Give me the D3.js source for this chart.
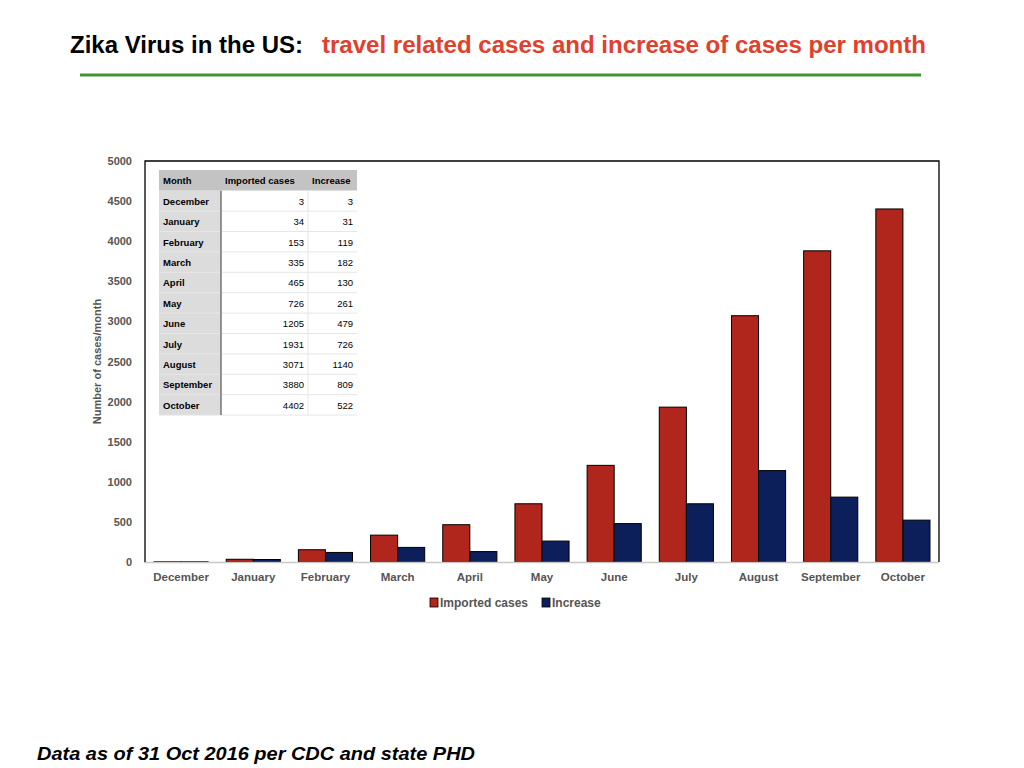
<!DOCTYPE html>
<html>
<head>
<meta charset="utf-8">
<script src="https://cdn.jsdelivr.net/npm/d3@7"></script>
<style>
  body { margin: 0; background: #fff; }
  svg { display: block; font-family: "Liberation Sans", Arial, Helvetica, sans-serif; }
</style>
</head>
<body>
<svg id="chart" width="1024" height="768"></svg>
<script>
const months = ["December", "January", "February", "March", "April", "May", "June", "July", "August", "September", "October"];
const importedCases = [3, 34, 153, 335, 465, 726, 1205, 1931, 3071, 3880, 4402];
const increase = [3, 31, 119, 182, 130, 261, 479, 726, 1140, 809, 522];
const yTicks = [0, 500, 1000, 1500, 2000, 2500, 3000, 3500, 4000, 4500, 5000];
const seriesNames = ["Imported cases", "Increase"];
const seriesColors = ["#b0261c", "#0d1f5a"];

const plot = {left: 145, right: 939, top: 161, bottom: 562};

const svg = d3.select("#chart");

// title
const title = svg.append("text")
    .attr("x", 70)
    .attr("y", 53)
    .style("font-family", "'Liberation Sans Narrow', 'Arial Narrow', 'Liberation Sans', sans-serif")
    .style("font-size", "23.5px")
    .style("font-weight", "bold");
title.append("tspan")
    .attr("fill", "#000")
    .attr("textLength", 233)
    .attr("lengthAdjust", "spacingAndGlyphs")
    .text("Zika Virus in the US:");
title.append("tspan")
    .attr("x", 322)
    .attr("fill", "#e0402c")
    .attr("textLength", 604)
    .attr("lengthAdjust", "spacingAndGlyphs")
    .text("travel related cases and  increase of cases per month");

svg.append("line")
    .attr("x1", 80).attr("x2", 921)
    .attr("y1", 75).attr("y2", 75)
    .attr("stroke", "#3f9630")
    .attr("stroke-width", 3);

// scales
const x0 = d3.scaleBand()
    .domain(months)
    .range([plot.left, plot.right])
    .paddingInner(0.25)
    .paddingOuter(0.125);

const x1 = d3.scaleBand()
    .domain(seriesNames)
    .range([0, x0.bandwidth()]);

const y = d3.scaleLinear()
    .domain([0, 5000])
    .range([plot.bottom, plot.top]);

// y axis labels
svg.append("g")
    .selectAll("text")
    .data(yTicks)
    .join("text")
    .attr("x", 132)
    .attr("y", d => y(d) + 4)
    .attr("text-anchor", "end")
    .attr("fill", "#555")
    .style("font-size", "11px")
    .style("font-weight", "bold")
    .text(d => d);

svg.append("text")
    .attr("transform", "translate(101," + ((plot.top + plot.bottom) / 2) + ") rotate(-90)")
    .attr("text-anchor", "middle")
    .attr("fill", "#555")
    .style("font-size", "11px")
    .style("font-weight", "bold")
    .text("Number of cases/month");

// x axis labels
svg.append("g")
    .selectAll("text")
    .data(months)
    .join("text")
    .attr("x", d => x0(d) + x0.bandwidth() / 2)
    .attr("y", 581)
    .attr("text-anchor", "middle")
    .attr("fill", "#555")
    .style("font-size", "11.5px")
    .style("font-weight", "bold")
    .text(d => d);

// bars
const groups = svg.append("g")
    .selectAll("g")
    .data(months)
    .join("g")
    .attr("transform", d => "translate(" + x0(d) + ",0)");

groups.selectAll("rect")
    .data((d, i) => [
        {series: seriesNames[0], value: importedCases[i], color: seriesColors[0]},
        {series: seriesNames[1], value: increase[i], color: seriesColors[1]}
    ])
    .join("rect")
    .attr("x", d => x1(d.series))
    .attr("y", d => y(d.value))
    .attr("width", x1.bandwidth())
    .attr("height", d => y(0) - y(d.value))
    .attr("fill", d => d.color)
    .attr("stroke", "#000")
    .attr("stroke-width", 1);

// frame
svg.append("line")
    .attr("x1", plot.left - 1).attr("x2", plot.right)
    .attr("y1", plot.bottom + 0.5).attr("y2", plot.bottom + 0.5)
    .attr("stroke", "#c8c8c8")
    .attr("stroke-width", 1.5);
svg.append("path")
    .attr("d", "M" + plot.left + "," + plot.bottom + "V" + plot.top + "H" + plot.right + "V" + plot.bottom)
    .attr("fill", "none")
    .attr("stroke", "#000")
    .attr("stroke-width", 1.3);

// data table
const tableX = 159, tableY = 170;
const colW = [62, 87, 49];
const headH = 20.7, rowH = 20.4;
const headers = ["Month", "Imported cases", "Increase"];
const table = svg.append("g").style("font-size", "9.5px");

table.append("rect")
    .attr("x", tableX).attr("y", tableY)
    .attr("width", d3.sum(colW)).attr("height", headH)
    .attr("fill", "#c3c3c3");
table.append("rect")
    .attr("x", tableX).attr("y", tableY + headH)
    .attr("width", colW[0]).attr("height", rowH * months.length)
    .attr("fill", "#dcdcdc");
table.append("rect")
    .attr("x", tableX + colW[0]).attr("y", tableY + headH)
    .attr("width", colW[1] + colW[2]).attr("height", rowH * months.length)
    .attr("fill", "#fff");

table.selectAll("line.row")
    .data(months)
    .join("line")
    .attr("class", "row")
    .attr("x1", tableX).attr("x2", tableX + d3.sum(colW))
    .attr("y1", (d, i) => tableY + headH + rowH * (i + 1))
    .attr("y2", (d, i) => tableY + headH + rowH * (i + 1))
    .attr("stroke", "#e6e6e6");
table.append("line")
    .attr("x1", tableX + colW[0] + colW[1]).attr("x2", tableX + colW[0] + colW[1])
    .attr("y1", tableY + headH).attr("y2", tableY + headH + rowH * months.length)
    .attr("stroke", "#e6e6e6");
table.append("line")
    .attr("x1", tableX + colW[0]).attr("x2", tableX + colW[0])
    .attr("y1", tableY + headH).attr("y2", tableY + headH + rowH * months.length)
    .attr("stroke", "#555")
    .attr("stroke-width", 1.2);

table.selectAll("text.head")
    .data(headers)
    .join("text")
    .attr("class", "head")
    .attr("x", (d, i) => tableX + d3.sum(colW.slice(0, i)) + 4)
    .attr("y", tableY + 14)
    .style("font-weight", "bold")
    .text(d => d);

table.selectAll("text.month")
    .data(months)
    .join("text")
    .attr("class", "month")
    .attr("x", tableX + 4)
    .attr("y", (d, i) => tableY + headH + rowH * i + 14)
    .style("font-weight", "bold")
    .text(d => d);

table.selectAll("text.imp")
    .data(importedCases)
    .join("text")
    .attr("class", "imp")
    .attr("x", tableX + colW[0] + colW[1] - 4)
    .attr("y", (d, i) => tableY + headH + rowH * i + 14)
    .attr("text-anchor", "end")
    .text(d => d);

table.selectAll("text.inc")
    .data(increase)
    .join("text")
    .attr("class", "inc")
    .attr("x", tableX + d3.sum(colW) - 4)
    .attr("y", (d, i) => tableY + headH + rowH * i + 14)
    .attr("text-anchor", "end")
    .text(d => d);

// legend
const legendX = [430, 542];
const legend = svg.append("g")
    .selectAll("g")
    .data(seriesNames)
    .join("g")
    .attr("transform", (d, i) => "translate(" + legendX[i] + ",598)");
legend.append("rect")
    .attr("width", 8).attr("height", 9)
    .attr("fill", (d, i) => seriesColors[i])
    .attr("stroke", "#000")
    .attr("stroke-width", 0.8);
legend.append("text")
    .attr("x", 10)
    .attr("y", 9)
    .attr("fill", "#555")
    .style("font-size", "12px")
    .style("font-weight", "bold")
    .text(d => d);

// footer
svg.append("text")
    .attr("x", 37)
    .attr("y", 760)
    .attr("textLength", 438)
    .attr("lengthAdjust", "spacingAndGlyphs")
    .style("font-size", "19px")
    .style("font-weight", "bold")
    .style("font-style", "italic")
    .text("Data as of 31 Oct 2016 per CDC and state PHD");
</script>
</body>
</html>
